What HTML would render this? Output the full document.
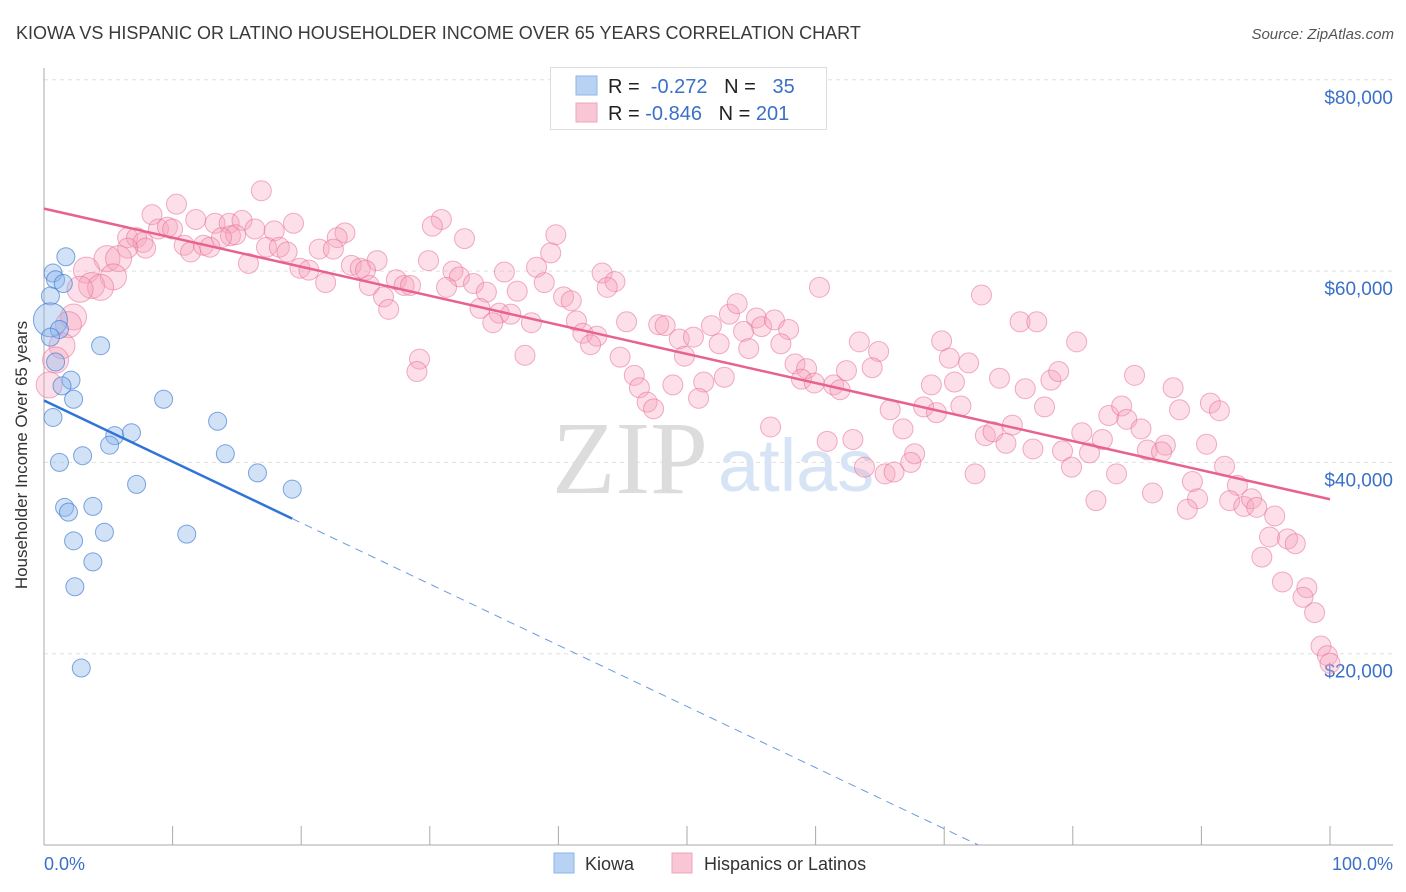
<!DOCTYPE html>
<html><head><meta charset="utf-8"><style>
body{margin:0;background:#fff;font-family:"Liberation Sans",sans-serif;}
#wrap{position:relative;width:1406px;height:892px;overflow:hidden;}
</style></head><body>
<div id="wrap">
<svg id="chart" width="1406" height="892">
<text x="16" y="39" font-size="18" fill="#3a3a3a">KIOWA VS HISPANIC OR LATINO HOUSEHOLDER INCOME OVER 65 YEARS CORRELATION CHART</text>
<text x="1394" y="39" font-size="15" fill="#555" font-style="italic" text-anchor="end">Source: ZipAtlas.com</text>
<g id="grid"></g>
<text x="552" y="493" font-size="104" font-family="Liberation Serif,serif" fill="#dcdcdc">ZIP</text>
<text x="718" y="491" font-size="74" fill="#d6e4f5">atlas</text>
<g id="axes"></g>
<g id="pink"></g>
<g id="blue"></g>
<g id="trends"></g>
<text x="27" y="455" font-size="17" fill="#333" text-anchor="middle" transform="rotate(-90 27 455)">Householder Income Over 65 years</text>
<text x="44" y="870" font-size="18" fill="#3a70c8">0.0%</text>
<text x="1393" y="870" font-size="18" fill="#3a70c8" text-anchor="end">100.0%</text>
<g>
<rect x="550.5" y="67.5" width="276" height="62" fill="#fff" stroke="#ddd"/>
<rect x="576" y="76" width="21" height="19" fill="#b8d2f4" stroke="#8fb5e8"/>
<rect x="576" y="103" width="21" height="19" fill="#f9c6d6" stroke="#f2a3bd"/>
<text x="608" y="93" font-size="20" fill="#222">R = <tspan fill="#3a70c8">&#160;-0.272</tspan>&#160;&#160;&#160;N = &#160;&#160;<tspan fill="#3a70c8">35</tspan></text>
<text x="608" y="120" font-size="20" fill="#222">R = <tspan fill="#3a70c8">-0.846</tspan>&#160;&#160;&#160;N = <tspan fill="#3a70c8">201</tspan></text>
</g>
<g>
<rect x="554" y="853" width="20" height="20" fill="#b8d2f4" stroke="#8fb5e8"/>
<text x="585" y="870" font-size="18" fill="#333">Kiowa</text>
<rect x="672" y="853" width="20" height="20" fill="#f9c6d6" stroke="#f2a3bd"/>
<text x="704" y="870" font-size="18" fill="#333">Hispanics or Latinos</text>
</g>
</svg>
</div>
<script>
const yTicks=[20000,40000,60000,80000];
const yTickLabels=["$20,000","$40,000","$60,000","$80,000"];
const xTicks=[10,20,30,40,50,60,70,80,90,100];
const kiowaX=[1.7,0.7,0.9,1.5,0.5,0.5,1.2,0.5,4.4,0.9,2.1,1.4,2.3,0.7,9.3,13.5,5.5,6.8,5.1,3.0,1.2,14.1,7.2,16.6,19.3,1.6,1.9,3.8,4.7,11.1,2.3,3.8,2.4,2.9];
const kiowaY=[61.5,59.8,59.1,58.7,57.4,54.9,53.9,53.1,52.2,50.5,48.6,48.0,46.6,44.7,46.6,44.3,42.8,43.1,41.8,40.7,40.0,40.9,37.7,38.9,37.2,35.3,34.8,35.4,32.7,32.5,31.8,29.6,27.0,18.5];
const hispX=[16.9,10.3,8.4,11.8,13.3,14.4,15.4,19.4,8.9,9.6,10.0,16.4,17.9,23.4,22.8,14.5,14.9,13.8,6.5,7.2,7.7,7.9,6.5,10.9,11.4,12.4,12.9,17.3,18.3,18.9,21.4,22.5,4.9,5.8,15.9,25.9,3.3,5.4,3.7,4.4,2.8,19.9,20.6,23.9,24.6,25.0,21.9,25.3,27.4,28.0,28.5,26.4,26.8,2.3,1.9,1.4,0.9,0.4,30.9,30.2,32.7,39.8,39.4,29.9,31.8,32.3,35.8,38.3,43.4,44.4,43.8,31.3,33.4,34.4,36.8,38.9,40.4,41.0,33.9,35.4,36.3,34.9,37.9,41.4,41.9,43.0,42.5,45.3,44.8,29.2,29.0,37.4,60.3,47.8,48.3,49.4,50.5,49.8,51.9,52.5,53.3,53.9,55.4,54.4,55.8,56.8,57.9,54.8,57.3,58.4,59.3,58.9,59.9,61.4,61.9,62.4,63.4,64.9,64.4,65.8,45.9,46.3,46.9,47.4,48.9,51.3,50.9,52.9,56.5,60.9,62.9,63.8,65.4,66.1,72.9,75.9,77.2,80.3,69.8,70.4,71.9,69.0,70.8,74.3,76.3,78.3,78.9,84.8,87.8,88.3,90.7,91.4,68.4,69.4,71.3,66.8,77.8,82.8,83.8,84.2,85.3,75.3,73.2,73.8,74.8,76.9,79.2,80.7,81.3,82.3,85.8,87.2,86.9,90.4,91.8,79.9,83.4,89.3,92.8,67.7,67.4,72.4,81.8,86.2,89.7,88.9,92.2,93.3,93.9,94.3,95.7,95.3,96.7,97.3,94.7,96.3,98.2,97.9,98.8,99.3,99.8,100];
const hispY=[68.4,67.0,65.9,65.4,65.0,65.0,65.3,65.0,64.4,64.6,64.4,64.4,64.2,64.0,63.5,63.7,63.8,63.5,63.5,63.5,63.0,62.4,62.4,62.7,62.0,62.7,62.5,62.5,62.5,62.0,62.3,62.3,61.3,61.3,60.8,61.1,60.1,59.4,58.5,58.3,58.1,60.3,60.1,60.6,60.3,60.1,58.8,58.5,59.1,58.5,58.5,57.3,56.0,55.2,54.4,52.2,50.7,48.1,65.4,64.7,63.4,63.8,61.9,61.1,60.0,59.4,59.9,60.4,59.8,58.9,58.3,58.3,58.7,57.8,57.9,58.8,57.3,56.9,56.1,55.6,55.5,54.6,54.6,54.8,53.5,53.2,52.3,54.7,51.0,50.8,49.5,51.2,58.3,54.4,54.3,52.9,53.1,51.1,54.3,52.4,55.5,56.6,55.1,53.7,54.2,54.9,53.9,51.9,52.4,50.3,49.8,48.7,48.3,48.1,47.6,49.6,52.6,51.6,49.9,45.5,49.1,47.8,46.3,45.6,48.1,48.4,46.7,48.9,43.7,42.2,42.4,39.5,38.8,39.0,57.5,54.7,54.7,52.6,52.7,50.9,50.4,48.1,48.4,48.8,47.7,48.6,49.5,49.1,47.8,45.5,46.2,45.4,45.8,45.2,45.9,43.5,45.8,44.9,45.9,44.5,43.5,43.9,42.8,43.2,42.0,41.4,41.2,43.1,41.0,42.4,41.3,41.8,41.1,41.9,39.6,39.5,38.8,38.0,37.6,40.9,40.0,38.8,36.0,36.8,36.2,35.1,36.0,35.4,36.2,35.3,34.4,32.2,32.0,31.5,30.1,27.5,26.9,25.9,24.3,20.8,19.8,19.0];
const NS="http://www.w3.org/2000/svg";
const X0=44,X1=1330,Y0=845,PX_PER_K=191.3/20;
function xs(p){return X0+(X1-X0)*p/100;}
function ys(k){return Y0-k*PX_PER_K;}
function mk(tag,attrs,parent){const e=document.createElementNS(NS,tag);for(const k in attrs)e.setAttribute(k,attrs[k]);parent.appendChild(e);return e;}
const grid=document.getElementById('grid'),axes=document.getElementById('axes');
yTicks.forEach((v,i)=>{
 const y=ys(v/1000);
 const l=mk('line',{x1:X0,x2:1393,y1:y,y2:y,stroke:'#e0e0e0','stroke-dasharray':'4,4'},grid);
 
 
 const t=mk('text',{x:1393,y:y+24,'font-size':19,fill:'#3a70c8','text-anchor':'end'},axes);
 t.textContent=yTickLabels[i];
 
 
});
const ya=mk('line',{x1:X0,x2:X0,y1:68,y2:Y0,stroke:'#aaa'},axes);


const xa=mk('line',{x1:X0,x2:1393,y1:Y0,y2:Y0,stroke:'#aaa'},axes);


xTicks.forEach(p=>{
 const t=mk('line',{x1:xs(p),x2:xs(p),y1:826,y2:Y0,stroke:'#aaa'},axes);
 
 
});
const pg=document.getElementById('pink'),bg=document.getElementById('blue');
hispX.forEach((p,i)=>{
 const r=(p<6)?13:10;
 const c=mk('circle',{cx:xs(p),cy:ys(hispY[i]),r:r,fill:'rgba(246,164,190,0.35)',stroke:'rgba(232,110,150,0.55)','stroke-width':1},pg);
 
 
});
kiowaX.forEach((p,i)=>{
 const r=(i===5)?17:9;
 const c=mk('circle',{cx:xs(p),cy:ys(kiowaY[i]),r:r,fill:'rgba(140,182,236,0.4)',stroke:'rgba(60,120,210,0.65)','stroke-width':1},bg);
 
 
});
function reg(xsA,ysA){const n=xsA.length;let mx=0,my=0;for(let i=0;i<n;i++){mx+=xsA[i];my+=ysA[i];}mx/=n;my/=n;let sxy=0,sxx=0;for(let i=0;i<n;i++){sxy+=(xsA[i]-mx)*(ysA[i]-my);sxx+=(xsA[i]-mx)**2;}const b=sxy/sxx;return [my-b*mx,b];}
const tg=document.getElementById('trends');
const [pa,pb]=reg(hispX,hispY);
const pl=mk('line',{x1:xs(0),y1:ys(pa),x2:xs(100),y2:ys(pa+pb*100),stroke:'#e8628f','stroke-width':2.5},tg);


const [ba,bb]=reg(kiowaX,kiowaY);
const xmax=Math.max(...kiowaX);
const bl=mk('line',{x1:xs(0),y1:ys(ba),x2:xs(xmax),y2:ys(ba+bb*xmax),stroke:'#2f74d6','stroke-width':2.5},tg);


let xe=100;if(bb<0&&ba+bb*100<0)xe=-ba/bb;
const bd=mk('line',{x1:xs(xmax),y1:ys(ba+bb*xmax),x2:xs(xe),y2:ys(ba+bb*xe),stroke:'#6a9ae0','stroke-width':1,'stroke-dasharray':'8,6'},tg);


</script>
</body></html>
